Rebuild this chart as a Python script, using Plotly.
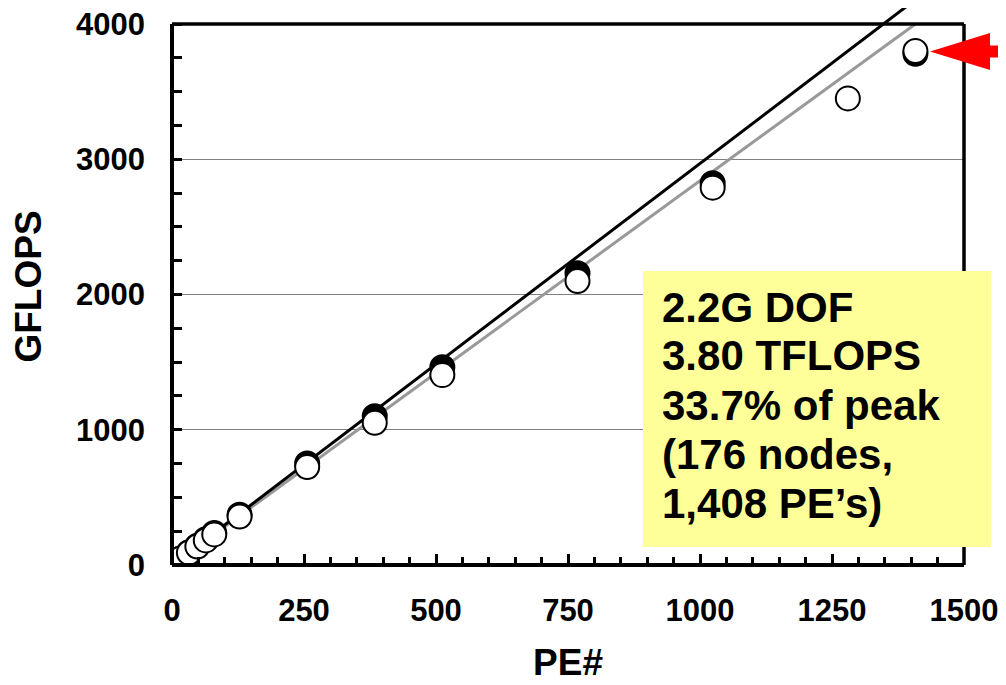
import plotly.graph_objects as go

# ---- data ----
pe = [8, 16, 32, 48, 64, 80, 128, 256, 384, 512, 768, 1024, 1280, 1408]
gflops_white = [23, 46, 91, 137, 182, 226, 358, 724, 1052, 1404, 2100, 2790, 3450, 3800]
gflops_black = [24, 48, 95, 142, 190, 237, 372, 750, 1100, 1462, 2158, 2823, None, 3780]

line_pe = [0, 1408]
line_black = [0, 4180]
line_gray = [0, 4000]

x_ticks = [0, 250, 500, 750, 1000, 1250, 1500]
y_ticks = [0, 1000, 2000, 3000, 4000]

box_lines = ["2.2G DOF", "3.80 TFLOPS", "33.7% of peak", "(176 nodes,", "1,408 PE\u2019s)"]

# ---- geometry (page has an 8 px body margin) ----
OFF = 8
W, H = 1006, 685
ML = 172 - OFF
MR = W - (964 - OFF)
MB = H - (565 - OFF)
MT = 0
PW, PH = W - ML - MR, H - MT - MB
YTOP_PX = 24 - OFF
YMAX = 4000 * PH / (PH - YTOP_PX)  # so that 4000 sits at the frame top


def px(xs):
    return (xs - OFF - ML) / PW


def py(ys):
    return (H - MB - (ys - OFF)) / PH


FONT = "Liberation Sans, Arial, sans-serif"

fig = go.Figure()
fig.add_trace(go.Scatter(x=line_pe, y=line_gray, mode="lines",
                         line=dict(color="#999999", width=3), hoverinfo="skip"))
fig.add_trace(go.Scatter(x=line_pe, y=line_black, mode="lines",
                         line=dict(color="black", width=3), hoverinfo="skip"))
fig.add_trace(go.Scatter(x=pe, y=gflops_black, mode="markers",
                         marker=dict(size=24, color="black", line=dict(color="black", width=2))))
fig.add_trace(go.Scatter(x=pe, y=gflops_white, mode="markers",
                         marker=dict(size=24, color="white", line=dict(color="black", width=2))))

ytop = 4000 / YMAX
shapes = [
    dict(type="line", xref="paper", yref="paper", x0=0, x1=0, y0=0, y1=ytop, line=dict(color="black", width=4)),
    dict(type="line", xref="paper", yref="paper", x0=0, x1=1, y0=0, y1=0, line=dict(color="black", width=4)),
    dict(type="line", xref="paper", yref="paper", x0=0, x1=1, y0=ytop, y1=ytop, line=dict(color="black", width=3.5)),
    dict(type="line", xref="paper", yref="paper", x0=1, x1=1, y0=0, y1=ytop, line=dict(color="black", width=3.5)),
    # yellow text box
    dict(type="rect", xref="paper", yref="paper", x0=px(643), x1=px(991), y0=py(547), y1=py(271),
         fillcolor="#FFFF99", line=dict(width=0), layer="above"),
]
# red block arrow
arrow_pts = [(930, 51.5), (990, 33), (990, 45.5), (1030, 45.5), (1030, 57.5), (990, 57.5), (990, 70)]
path = "M " + " L ".join(f"{px(a):.5f},{py(b):.5f}" for a, b in arrow_pts) + " Z"
shapes.append(dict(type="path", xref="paper", yref="paper", path=path,
                   fillcolor="#FF0000", line=dict(width=0), layer="above"))

annotations = []
for i, t in enumerate(box_lines):
    annotations.append(dict(text=t, xref="paper", yref="paper", x=px(660), y=py(307 + 49 * i),
                            xanchor="left", yanchor="middle", showarrow=False,
                            font=dict(family=FONT, size=42, color="black", weight="bold")))

fig.update_layout(
    width=W, height=H,
    margin=dict(l=ML, r=MR, t=MT, b=MB, autoexpand=False),
    paper_bgcolor="white", plot_bgcolor="white",
    showlegend=False,
    shapes=shapes, annotations=annotations,
    font=dict(family=FONT, color="black"),
)
fig.update_xaxes(
    automargin=False, ticklabeloverflow="allow",
    range=[0, 1500], tickvals=x_ticks, ticks="inside", ticklen=11, tickwidth=3, tickcolor="black",
    minor=dict(dtick=50, tick0=0, ticks="inside", ticklen=8, tickwidth=3, tickcolor="black", showgrid=False),
    showgrid=False, zeroline=False, showline=False,
    tickfont=dict(family=FONT, size=31, color="black", weight="bold"), ticklabelstandoff=24,
    title=dict(text="PE#", font=dict(family=FONT, size=37, color="black", weight="bold"), standoff=22),
)
fig.update_yaxes(
    automargin=False, ticklabeloverflow="allow",
    range=[0, YMAX], tickvals=y_ticks, ticks="inside", ticklen=10, tickwidth=3, tickcolor="black",
    minor=dict(dtick=250, tick0=0, ticks="inside", ticklen=10, tickwidth=3, tickcolor="black", showgrid=False),
    showgrid=True, gridcolor="#808080", gridwidth=1, zeroline=False, showline=False,
    tickfont=dict(family=FONT, size=31, color="black", weight="bold"), ticklabelstandoff=26,
    title=dict(text="GFLOPS", font=dict(family=FONT, size=37, color="black", weight="bold"), standoff=26),
)

fig.write_html("out.html")
